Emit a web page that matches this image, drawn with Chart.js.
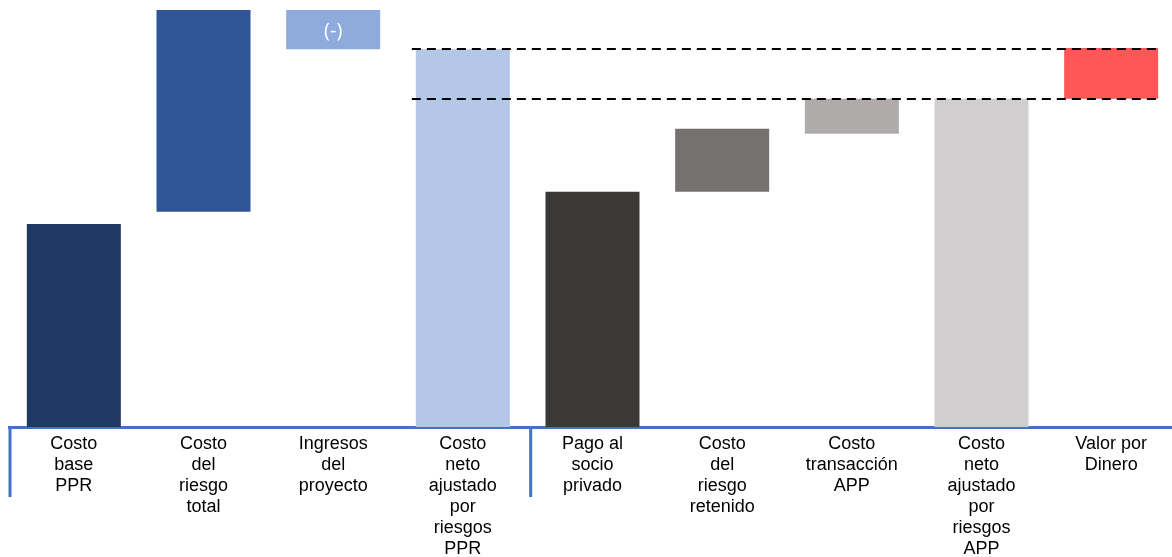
<!DOCTYPE html>
<html>
<head>
<meta charset="utf-8">
<script src="https://cdn.jsdelivr.net/npm/chart.js@4.4.1/dist/chart.umd.min.js"></script>
<style>
  html, body { margin: 0; padding: 0; background: #fff; overflow: hidden; }
  #wrap { width: 1176px; height: 557px; }
</style>
</head>
<body>
<div id="wrap"><canvas id="vpdChart" width="1176" height="557"></canvas></div>
<script>
  const categories = [
    ['Costo', 'base', 'PPR'],
    ['Costo', 'del', 'riesgo', 'total'],
    ['Ingresos', 'del', 'proyecto'],
    ['Costo', 'neto', 'ajustado', 'por', 'riesgos', 'PPR'],
    ['Pago al', 'socio', 'privado'],
    ['Costo', 'del', 'riesgo', 'retenido'],
    ['Costo', 'transacción', 'APP'],
    ['Costo', 'neto', 'ajustado', 'por', 'riesgos', 'APP'],
    ['Valor por', 'Dinero']
  ];
  const barLow  = [0, 51.6, 90.6, 0, 0, 56.4, 70.3, 0, 78.7];
  const barHigh = [48.7, 100, 100, 90.6, 56.4, 71.5, 78.7, 78.7, 90.9];
  const barColors = ['#203864', '#2F5597', '#8FAADC', '#B4C7E7', '#3B3838', '#767171', '#AFABAB', '#D0CECE', '#FF5757'];
  const barNotes = ['', '', '(-)', '', '', '', '', '', ''];
  // dashed reference lines: value, first category, last category
  const refValues = [90.6, 78.7];
  const refFrom = [3, 3];
  const refTo = [8, 8];

  const extras = {
    id: 'extras',
    afterDatasetsDraw(chart) {
      const ctx = chart.ctx;
      const meta = chart.getDatasetMeta(0);
      const y = chart.scales.y;
      const x = chart.scales.x;
      const area = chart.chartArea;

      ctx.save();
      // notes inside bars
      ctx.fillStyle = '#fff';
      ctx.font = '20px "Open Sans", sans-serif';
      ctx.textAlign = 'center';
      ctx.textBaseline = 'middle';
      barNotes.forEach((t, i) => {
        if (!t) return;
        const b = meta.data[i];
        ctx.fillText(t, b.x, (b.y + b.base) / 2 + 2);
      });

      // dashed lines
      ctx.strokeStyle = '#000';
      ctx.lineWidth = 2;
      ctx.setLineDash([9, 6]);
      refValues.forEach((v, i) => {
        const a = meta.data[refFrom[i]], b = meta.data[refTo[i]];
        const py = Math.round(y.getPixelForValue(v));
        ctx.beginPath();
        ctx.moveTo(a.x - a.width / 2 - 4, py);
        ctx.lineTo(b.x + b.width / 2, py);
        ctx.stroke();
      });
      ctx.setLineDash([]);

      // group separators below the axis
      ctx.strokeStyle = '#4472C4';
      ctx.lineWidth = 3;
      const sepX = [area.left + 1, (x.getPixelForValue(3) + x.getPixelForValue(4)) / 2 + 3];
      sepX.forEach(sx => {
        ctx.beginPath();
        ctx.moveTo(sx, area.bottom);
        ctx.lineTo(sx, area.bottom + 70);
        ctx.stroke();
      });
      ctx.restore();
    }
  };

  new Chart(document.getElementById('vpdChart').getContext('2d'), {
    type: 'bar',
    data: {
      labels: categories,
      datasets: [{
        data: barLow.map((lo, i) => [lo, barHigh[i]]),
        backgroundColor: barColors,
        borderWidth: 0,
        borderSkipped: false,
        barPercentage: 0.725,
        categoryPercentage: 1
      }]
    },
    options: {
      responsive: false,
      animation: false,
      layout: { padding: { left: 9, top: 10, right: 0, bottom: 0 } },
      plugins: { legend: { display: false }, tooltip: { enabled: true } },
      scales: {
        y: { display: false, min: 0, max: 100 },
        x: {
          grid: { display: false, drawTicks: false },
          border: { display: true, color: '#4472C4', width: 3 },
          ticks: {
            color: '#000',
            padding: 7,
            maxRotation: 0,
            autoSkip: false,
            font: { family: '"Liberation Sans", Arial, sans-serif', size: 18, lineHeight: '21px' }
          },
          afterFit(scale) { scale.height = 130; }
        }
      }
    },
    plugins: [extras]
  });
</script>
</body>
</html>
